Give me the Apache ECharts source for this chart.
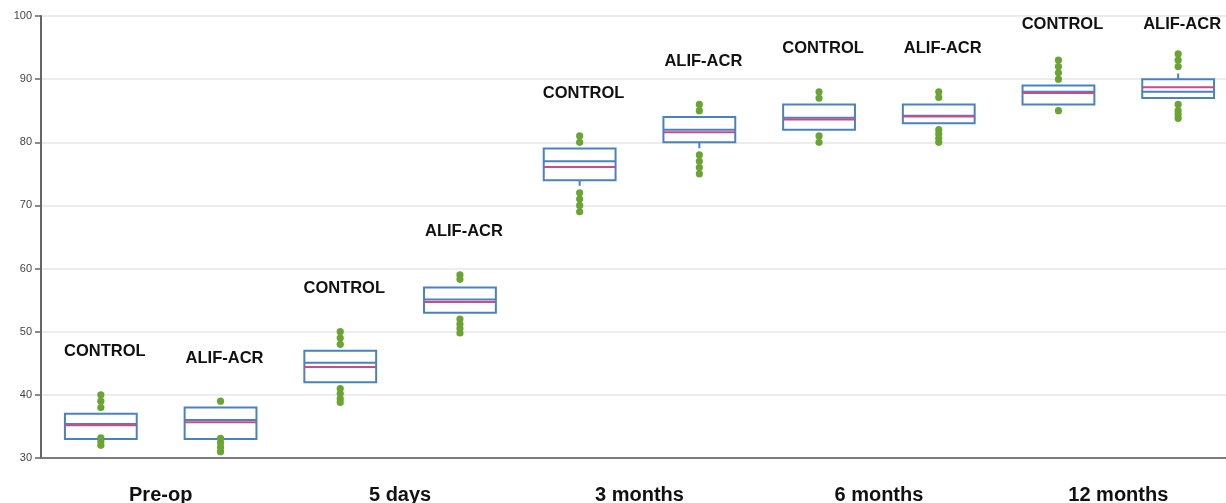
<!DOCTYPE html>
<html>
<head>
<meta charset="utf-8">
<title>Scores by time point: CONTROL vs ALIF-ACR</title>
<script src="https://cdn.jsdelivr.net/npm/echarts@6/dist/echarts.min.js"></script>
<style>
  html, body { margin: 0; padding: 0; background: #fff; }
  #chart { width: 1226px; height: 503px; }
</style>
</head>
<body>
<div id="chart"></div>
<script>
// Time points on the x axis
const timepoints = ['Pre-op', '5 days', '3 months', '6 months', '12 months'];
const groupNames = ['CONTROL', 'ALIF-ACR'];

// CONTROL group summary per time point
const controlWhiskerLow  = [33, 42, 73.1, 82, 86];
const controlQ1          = [33, 42, 74, 82, 86];
const controlMedian      = [35.4, 45.1, 77, 83.9, 88];
const controlQ3          = [37, 47, 79, 86, 89];
const controlWhiskerHigh = [37, 47, 79, 86, 89];
const controlMean        = [35.2, 44.4, 76.1, 83.6, 87.8];
const controlPoints = [
  [40, 39, 38, 33.2, 32.6, 32],
  [50, 49, 48, 41, 40.2, 39.4, 38.8],
  [81, 80, 72, 71, 70, 69],
  [88, 87, 81, 80],
  [93, 92, 91, 90, 85]
];

// ALIF-ACR group summary per time point
const alifWhiskerLow  = [33, 53, 79.05, 83, 87];
const alifQ1          = [33, 53, 80, 83, 87];
const alifMedian      = [36, 55.1, 82, 84.2, 88];
const alifQ3          = [38, 57, 84, 86, 90];
const alifWhiskerHigh = [38, 57, 84, 86, 90.9];
const alifMean        = [35.65, 54.7, 81.6, 84.1, 88.7];
const alifPoints = [
  [39, 33.1, 32.4, 31.7, 31],
  [59, 58.3, 52, 51.2, 50.5, 49.8],
  [86, 85, 78, 77, 76, 75],
  [88, 87.1, 82, 81.3, 80.6, 80],
  [94, 93, 92, 86, 85, 84.4, 83.8]
];

// Value axis
const yMin = 30, yMax = 100, yStep = 10;

const BOX_BLUE = '#4a82c0';
const MEAN_PINK = '#cc4a86';
const DOT_GREEN = '#6aa534';
const LABEL_FONT = '"Liberation Sans", Arial, Helvetica, sans-serif';

function boxRows(lo, q1, med, q3, hi, mean, points) {
  return timepoints.map((t, i) => {
    const top = Math.max(hi[i], ...points[i]);
    return [i, lo[i], q1[i], med[i], q3[i], hi[i], mean[i], top];
  });
}
function pointRows(points) {
  const rows = [];
  points.forEach((list, i) => list.forEach(v => rows.push([i, v])));
  return rows;
}

// side: -1 = left half of the time point band, +1 = right half
function boxRenderer(side, name) {
  return function (params, api) {
    const i = api.value(0);
    const band = api.size([1, 0])[0];
    const cx = api.coord([i, yMin])[0] + side * band / 4;
    const w = band * 0.3;
    const y = v => api.coord([i, v])[1];
    const lo = api.value(1), q1 = api.value(2), med = api.value(3);
    const q3 = api.value(4), hi = api.value(5), mean = api.value(6), top = api.value(7);
    const line = (y0, y1, x0, x1, color) => ({
      type: 'line',
      shape: { x1: x0, y1: y0, x2: x1, y2: y1 },
      style: { stroke: color, lineWidth: 2 }
    });
    const children = [];
    if (lo < q1) children.push(line(y(q1), y(lo), cx, cx, BOX_BLUE));
    if (hi > q3) children.push(line(y(q3), y(hi), cx, cx, BOX_BLUE));
    children.push({
      type: 'rect',
      shape: { x: cx - w / 2, y: y(q3), width: w, height: y(q1) - y(q3) },
      style: { fill: '#fff', stroke: BOX_BLUE, lineWidth: 2 }
    });
    children.push(line(y(med), y(med), cx - w / 2, cx + w / 2, BOX_BLUE));
    children.push(line(y(mean), y(mean), cx - w / 2, cx + w / 2, MEAN_PINK));
    // Group name above the highest point of the box
    const labelValue = Math.min(top + 6.8, 98.6);
    children.push({
      type: 'text',
      x: cx + 4,
      y: y(labelValue),
      style: {
        text: name,
        fill: '#111',
        font: 'bold 16.5px ' + LABEL_FONT,
        align: 'center',
        verticalAlign: 'middle'
      }
    });
    return { type: 'group', children };
  };
}

function pointRenderer(side) {
  return function (params, api) {
    const i = api.value(0);
    const band = api.size([1, 0])[0];
    const p = api.coord([i, api.value(1)]);
    return {
      type: 'circle',
      shape: { cx: p[0] + side * band / 4, cy: p[1], r: 3.6 },
      style: { fill: DOT_GREEN }
    };
  };
}

const chart = echarts.init(document.getElementById('chart'), null, { renderer: 'canvas' });

chart.setOption({
  animation: false,
  backgroundColor: '#fff',
  grid: {
    left: 41, top: 16, width: 1197, height: 442,
    containLabel: false,
    outerBoundsMode: 'none'
  },
  xAxis: {
    type: 'category',
    data: timepoints,
    boundaryGap: true,
    axisLine: { lineStyle: { color: '#7d7d7d', width: 2 } },
    axisTick: { show: false },
    axisLabel: {
      margin: 27,
      color: '#111',
      fontSize: 20,
      fontWeight: 'bold',
      fontFamily: LABEL_FONT
    },
    splitLine: { show: false }
  },
  yAxis: {
    type: 'value',
    min: yMin,
    max: yMax,
    interval: yStep,
    axisLine: { show: true, lineStyle: { color: '#666', width: 2 } },
    axisTick: { show: true, length: 6, lineStyle: { color: '#666', width: 1.5 } },
    axisLabel: {
      margin: 9,
      color: '#444',
      fontSize: 11,
      fontFamily: LABEL_FONT
    },
    splitLine: { show: true, lineStyle: { color: '#ececec', width: 2 } }
  },
  series: [
    {
      name: groupNames[0] + ' box',
      type: 'custom',
      renderItem: boxRenderer(-1, groupNames[0]),
      encode: { x: 0, y: [1, 2, 3, 4, 5] },
      data: boxRows(controlWhiskerLow, controlQ1, controlMedian, controlQ3, controlWhiskerHigh, controlMean, controlPoints),
      z: 2
    },
    {
      name: groupNames[1] + ' box',
      type: 'custom',
      renderItem: boxRenderer(1, groupNames[1]),
      encode: { x: 0, y: [1, 2, 3, 4, 5] },
      data: boxRows(alifWhiskerLow, alifQ1, alifMedian, alifQ3, alifWhiskerHigh, alifMean, alifPoints),
      z: 2
    },
    {
      name: groupNames[0] + ' points',
      type: 'custom',
      renderItem: pointRenderer(-1),
      encode: { x: 0, y: 1 },
      data: pointRows(controlPoints),
      z: 3
    },
    {
      name: groupNames[1] + ' points',
      type: 'custom',
      renderItem: pointRenderer(1),
      encode: { x: 0, y: 1 },
      data: pointRows(alifPoints),
      z: 3
    }
  ]
});
</script>
</body>
</html>
